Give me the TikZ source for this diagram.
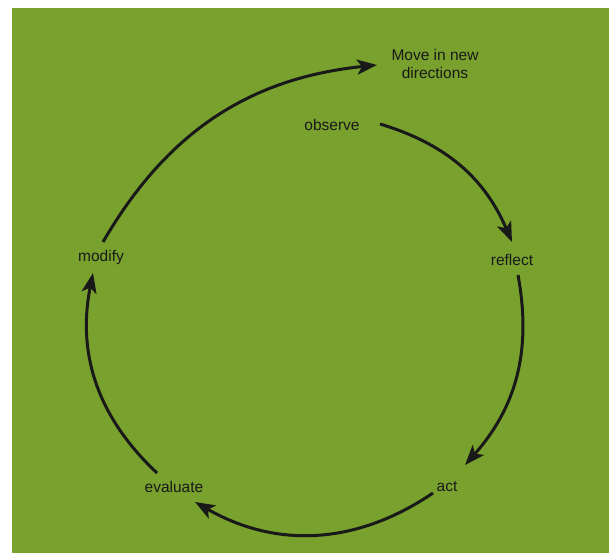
\documentclass[tikz,border=0pt]{standalone}
\usepackage{fontspec}
\setmainfont{Liberation Sans}
\usetikzlibrary{arrows.meta}
\definecolor{bggreen}{RGB}{121,161,46}
\definecolor{ink}{RGB}{25,25,25}
\begin{document}
\begin{tikzpicture}[x=1pt,y=1pt,
  lbl/.style={font=\fontsize{15.5}{18}\selectfont, text=ink, inner sep=1pt, align=center},
  cyc/.style={draw=ink, line width=3pt, -{Stealth[length=20pt,width=15pt,inset=5pt]}}]
\fill[white] (0,0) rectangle (609,553);
\useasboundingbox (0,0) rectangle (609,553);
\fill[bggreen] (12,0) rectangle (609,545);
% labels
\node[lbl] (move) at (435,489) {Move in new\\directions};
\node[lbl] (observe) at (332,428) {observe};
\node[lbl] (reflect) at (512,293) {reflect};
\node[lbl] (modify) at (101,296) {modify};
\node[lbl] (evaluate) at (174,66) {evaluate};
\node[lbl] (act) at (447,66) {act};
% connector ends
\coordinate (o1) at (380,429);
\coordinate (r1) at (512,311);
\coordinate (r2) at (518,278);
\coordinate (a1) at (465,88);
\coordinate (a2) at (433,60);
\coordinate (e1) at (195,51);
\coordinate (e2) at (157,80);
\coordinate (m1) at (93,280);
\coordinate (m2) at (103,311);
\coordinate (mv) at (377,488);
% arcs
\draw[cyc] (o1) to[bend left=25] (r1);
\draw[cyc] (r2) to[bend left=26] (a1);
\draw[cyc] (a2) to[bend left=32] (e1);
\draw[cyc] (e2) to[bend left=29] (m1);
\draw[cyc] (m2) to[bend left=27] (mv);
\end{tikzpicture}
\end{document}
